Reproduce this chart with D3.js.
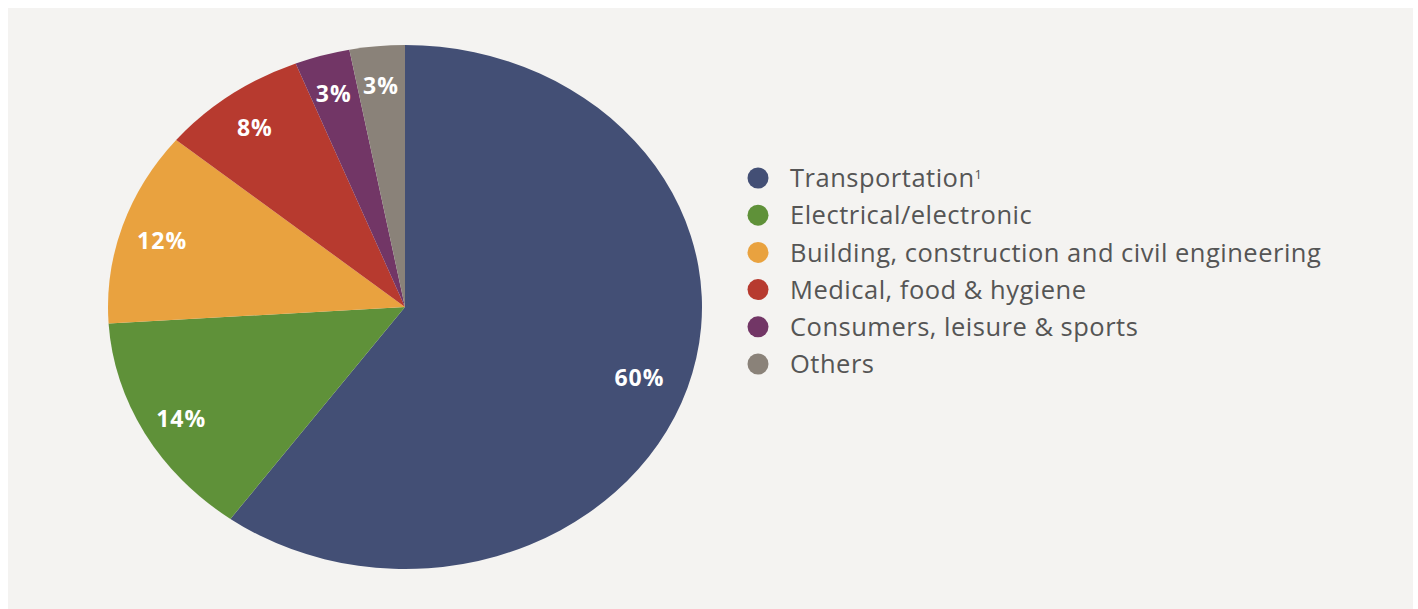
<!DOCTYPE html>
<html>
<head>
<meta charset="utf-8">
<script src="https://cdn.jsdelivr.net/npm/d3@7"></script>
<style>
  body { margin: 0; background: #ffffff; }
  svg { display: block; }
</style>
</head>
<body>
<svg width="1418" height="609"></svg>
<script>
var categories = ["Transportation", "Electrical/electronic", "Building, construction and civil engineering",
                  "Medical, food & hygiene", "Consumers, leisure & sports", "Others"];
var shares = [60, 14, 12, 8, 3, 3];
var colors = ["#434f75", "#5f9139", "#e9a23f", "#b73a2f", "#723666", "#8a8279"];

var svg = d3.select("svg"),
    width = +svg.attr("width"),
    height = +svg.attr("height");

// grey panel
svg.append("rect")
    .attr("x", 8).attr("y", 8)
    .attr("width", 1405).attr("height", height - 8)
    .attr("fill", "#f4f3f1");

var cx = 405, cy = 307, rx = 297, ry = 262;

var pie = d3.pie().sort(null).value(function(d) { return d; });
var arcs = pie(shares);
var arc = d3.arc().innerRadius(0).outerRadius(ry);

var g = svg.append("g")
    .attr("transform", "translate(" + cx + "," + cy + ")");

// the picture is stretched sideways, so the pie is too
g.append("g")
    .attr("transform", "scale(" + (rx / ry) + ",1)")
  .selectAll("path")
    .data(arcs)
    .enter().append("path")
    .attr("d", arc)
    .attr("fill", function(d, i) { return colors[i]; });

g.selectAll("text")
    .data(arcs)
    .enter().append("text")
    .attr("x", function(d) {
      var a = (d.startAngle + d.endAngle) / 2;
      return Math.sin(a) * rx * (d.index == 0 ? 0.83 : 0.86);
    })
    .attr("y", function(d) {
      var a = (d.startAngle + d.endAngle) / 2;
      return -Math.cos(a) * ry * (d.index == 0 ? 0.83 : 0.86);
    })
    .attr("text-anchor", "middle")
    .attr("dy", "0.5em")
    .attr("fill", "#ffffff")
    .attr("font-family", "'Open Sans', sans-serif")
    .attr("font-weight", "bold")
    .attr("font-size", 23)
    .attr("letter-spacing", 1)
    .text(function(d) { return d.data + "%"; });

// legend
var legend = svg.append("g")
    .selectAll("g")
    .data(categories)
    .enter().append("g")
    .attr("transform", function(d, i) { return "translate(758," + (178 + i * 37.2) + ")"; });

legend.append("circle")
    .attr("r", 10.5)
    .attr("fill", function(d, i) { return colors[i]; });

var lt = legend.append("text")
    .attr("x", 32)
    .attr("dy", "0.36em")
    .attr("fill", "#555555")
    .attr("font-family", "'Open Sans', sans-serif")
    .attr("font-size", 25.5)
    .attr("letter-spacing", 0.5)
    .text(function(d) { return d; });

lt.filter(function(d, i) { return i == 0; })
  .append("tspan")
    .attr("dy", "-0.6em")
    .attr("font-size", 13)
    .text("1");
</script>
</body>
</html>
